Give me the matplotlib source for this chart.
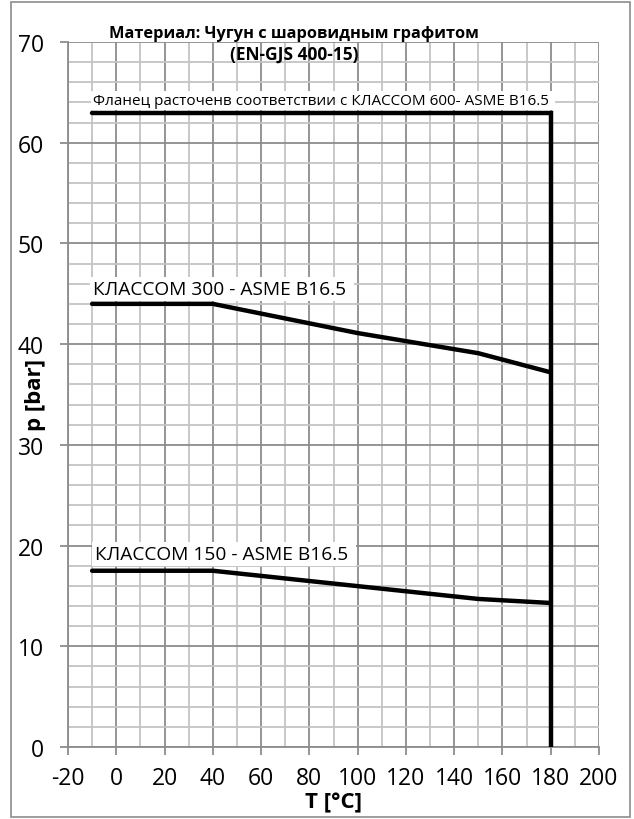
import numpy as np
import matplotlib
matplotlib.use("Agg")
import matplotlib.pyplot as plt
from matplotlib.patches import Rectangle

plt.rcParams['font.family'] = ['Open Sans', 'DejaVu Sans']
plt.rcParams['axes.unicode_minus'] = False

# pressure-temperature ratings, T in °C, p in bar
t_600 = [-10, 180, 180]
p_600 = [63, 63, 0]

t_300 = [-10, 40, 100, 150, 180]
p_300 = [44, 44, 41.1, 39.1, 37.2]

t_150 = [-10, 40, 150, 180]
p_150 = [17.5, 17.5, 14.7, 14.3]

title_1 = "Материал: Чугун с шаровидным графитом"
title_2 = "(EN-GJS 400-15)"
label_600 = "Фланец расточенв соответствии с КЛАССОМ 600- ASME B16.5"
label_300 = "КЛАССОМ 300 - ASME B16.5"
label_150 = "КЛАССОМ 150 - ASME B16.5"

fig = plt.figure(figsize=(6.34, 8.2), dpi=100)
ax = fig.add_axes([68 / 634, 72 / 820, 531 / 634, 705 / 820])

# frame round the whole picture
fig.patches.append(Rectangle((11 / 634, 0.002), 1 - 15 / 634, 0.994, transform=fig.transFigure,
                             fill=False, edgecolor='#8c8c8c', linewidth=1.2))

ax.set_xlim(-20, 200)
ax.set_ylim(0, 70)
ax.set_xticks(np.arange(-20, 201, 20))
ax.set_xticks(np.arange(-20, 201, 10), minor=True)
ax.set_yticks(np.arange(0, 71, 10))
ax.set_yticks(np.arange(0, 71, 2), minor=True)

ax.grid(which='minor', color='#c4c4c4', linewidth=1.3)
ax.grid(which='major', color='#8c8c8c', linewidth=1.3)
ax.set_axisbelow(True)
for s in ['top', 'right']:
    ax.spines[s].set_visible(False)
for s in ['left', 'bottom']:
    ax.spines[s].set_color('#8c8c8c')
    ax.spines[s].set_linewidth(1.3)

ax.tick_params(which='major', length=5.5, color='#8c8c8c', width=1.3, labelsize=16.5)
ax.tick_params(axis='x', which='major', pad=8)
ax.tick_params(axis='y', which='major', pad=12)
ax.tick_params(which='minor', length=0)

ax.plot(t_600, p_600, color='black', linewidth=3.2, solid_capstyle='round', solid_joinstyle='miter', zorder=4)
ax.plot(t_300, p_300, color='black', linewidth=3.2, solid_capstyle='round', zorder=4)
ax.plot(t_150, p_150, color='black', linewidth=3.2, solid_capstyle='round', zorder=4)

box = dict(facecolor='white', edgecolor='none', boxstyle='square,pad=0.15')
ax.text(-9.6, 63.85, label_600 + " ", fontsize=11, va='baseline', ha='left', bbox=box, zorder=3)
ax.text(-9.6, 45.0, label_300 + " ", fontsize=13.8, va='baseline', ha='left', bbox=box, zorder=3)
ax.text(-8.8, 18.67, label_150 + " ", fontsize=13.8, va='baseline', ha='left', bbox=box, zorder=3)

fig.text(294 / 634, 1 - 38 / 820, title_1, fontsize=11.8, fontweight='bold', ha='center', va='baseline')
fig.text(294 / 634, 1 - 60 / 820, title_2, fontsize=12.5, fontweight='bold', ha='center', va='baseline')

ax.set_xlabel("T [°C]", fontsize=16, fontweight='bold')
ax.set_ylabel("p [bar]", fontsize=16, fontweight='bold')
ax.xaxis.set_label_coords(0.5, (748 - 803) / 705)
ax.xaxis.label.set_va('center')
ax.yaxis.set_label_coords((36 - 68) / 531, 0.5)
ax.yaxis.label.set_va('center')

fig.savefig("out.png", dpi=100)
